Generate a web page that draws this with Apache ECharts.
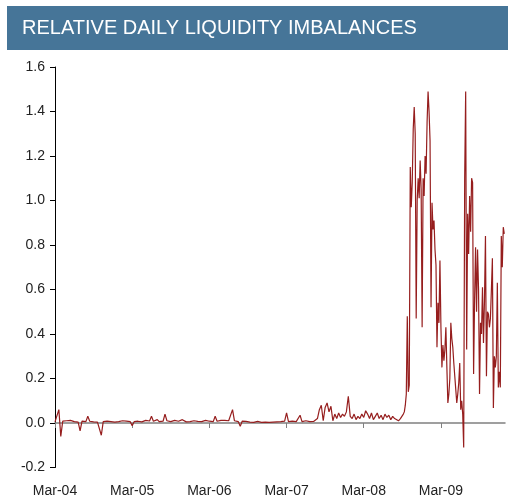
<!DOCTYPE html>
<html>
<head>
<meta charset="utf-8">
<script src="https://cdn.jsdelivr.net/npm/echarts@6/dist/echarts.min.js"></script>
<style>
html,body{margin:0;padding:0;background:#fff;}
#chart{width:508px;height:503px;}
</style>
</head>
<body>
<div id="chart"></div>
<script>
// Title
var chartTitle = 'RELATIVE DAILY LIQUIDITY IMBALANCES';
// X tick labels (years since Mar-04)
var xTickValues = [0, 1, 2, 3, 4, 5];
var xTickLabels = ['Mar-04', 'Mar-05', 'Mar-06', 'Mar-07', 'Mar-08', 'Mar-09'];
// Calm period: Mar-04 .. Sep-08, one value every 1/40 year
var calmStep = 1 / 40;
var calmValues = [
  0.005, 0.01, 0.06, -0.06, 0.008, 0.004, 0.01, 0.006, 0.012, 0.018,
  0.006, 0.01, 0.004, -0.035, 0.008, 0.012, 0.006, 0.03, 0.008, 0.012,
  0.005, 0.009, 0.004, 0.01, -0.055, 0.006, 0.012, 0.008, 0.015, 0.006,
  0.01, 0.004, 0.008, 0.006, 0.003, 0.01, 0.005, 0.008, 0.004, 0.006,
  -0.012, 0.006, 0.004, 0.008, 0.01, 0.005, 0.007, 0.012, 0.006, 0.009,
  0.03, 0.008, 0.01, 0.015, 0.006, 0.01, 0.008, 0.04, 0.01, 0.007,
  0.006, 0.009, 0.012, 0.005, 0.008, 0.006, 0.015, 0.008, 0.005, 0.01,
  0.006, 0.008, 0.01, 0.005, 0.007, 0.009, 0.006, 0.004, 0.012, 0.006,
  0.008, 0.01, 0.006, 0.03, 0.008, 0.01, 0.012, 0.007, 0.012, 0.008,
  0.01, 0.012, 0.06, 0.01, 0.015, 0.006, -0.015, 0.008, 0.005, 0.007,
  0.008, 0.004, 0.006, 0.003, 0.005, 0.007, 0.005, 0.003, 0.006, 0.004,
  0.005, 0.003, 0.006, 0.004, 0.007, 0.005, 0.003, 0.006, 0.004, 0.008,
  0.045, 0.006, 0.005, 0.008, 0.012, 0.006, 0.008, 0.035, 0.006, 0.005,
  0.01, 0.004, 0.006, 0.005, 0.007, 0.004, 0.02, 0.06, 0.08, 0.01,
  0.07, 0.09, 0.05, 0.075, 0.01, 0.04, 0.02, 0.045, 0.025, 0.04,
  0.03, 0.05, 0.12, 0.03, 0.02, 0.04, 0.015, 0.03, 0.02, 0.04,
  0.025, 0.055, 0.04, 0.02, 0.045, 0.015, 0.03, 0.045, 0.02, 0.035,
  0.015, 0.04, 0.025, 0.035, 0.015, 0.03, 0.02, 0.015, 0.01, 0.02
];
// Stress period: from Sep-08, one value every 1/78 year
var stressStart = 4.5;
var stressStep = 1 / 78;
var stressValues = [
  0.02, 0.04, 0.05, 0.08, 0.13, 0.48, 0.14, 0.17, 1.15, 0.97,
  1.08, 1.32, 1.42, 1.3, 0.47, 1.0, 1.1, 1.01, 1.18, 1.05,
  0.43, 1.1, 1.02, 1.2, 1.12, 1.35, 1.49, 1.4, 1.27, 0.52,
  0.99, 0.87, 0.91, 0.78, 0.71, 0.34, 0.54, 0.45, 0.73, 0.43,
  0.25, 0.35, 0.28, 0.33, 0.43, 0.25, 0.09, 0.13, 0.2, 0.45,
  0.38, 0.34, 0.27, 0.21, 0.15, 0.09, 0.13, 0.18, 0.27, 0.06,
  0.1, 0.04, -0.11, 1.1, 1.49, 0.33, 0.94, 0.76, 1.02, 0.86,
  1.1, 1.08, 0.22, 0.55, 0.79, 0.5, 0.78, 0.6, 0.13, 0.45,
  0.4, 0.61, 0.36, 0.55, 0.84, 0.21, 0.5, 0.49, 0.43, 0.47,
  0.6, 0.74, 0.067, 0.3, 0.25, 0.3, 0.63, 0.16, 0.23, 0.16,
  0.84, 0.7, 0.88, 0.85
];

var seriesData = [];
calmValues.forEach(function (v, i) { seriesData.push([i * calmStep, v]); });
stressValues.forEach(function (v, j) { seriesData.push([stressStart + j * stressStep, v]); });

var chart = echarts.init(document.getElementById('chart'), null, {renderer: 'canvas'});
chart.setOption({
  animation: false,
  backgroundColor: '#ffffff',
  graphic: [
    {type: 'rect', left: 7, top: 6, shape: {width: 501, height: 44}, style: {fill: '#467598'}, silent: true},
    {type: 'text', left: 22, top: 18, style: {text: chartTitle, fill: '#ffffff', font: '20px "Liberation Sans", Arial, sans-serif'}, silent: true}
  ],
  grid: {left: 55, right: 3, top: 67, bottom: 35.5, containLabel: false, outerBoundsMode: 'none'},
  xAxis: {
    type: 'value',
    min: 0,
    max: 5.83,
    interval: 1,
    splitLine: {show: false},
    axisLine: {onZero: true, lineStyle: {color: '#808080', width: 1.5}},
    axisTick: {show: true, length: 5, customValues: xTickValues, lineStyle: {color: '#808080', width: 1}},
    axisLabel: {
      customValues: xTickValues,
      margin: 17,
      color: '#222222',
      fontSize: 14,
      fontFamily: '"Liberation Sans", Arial, sans-serif',
      formatter: function (v) { var k = xTickValues.indexOf(Math.round(v)); return k >= 0 ? xTickLabels[k] : ''; }
    }
  },
  yAxis: {
    type: 'value',
    min: -0.2,
    max: 1.6,
    interval: 0.2,
    splitLine: {show: false},
    axisLine: {show: true, lineStyle: {color: '#000000', width: 1}},
    axisTick: {show: true, length: 5, lineStyle: {color: '#000000', width: 1}},
    axisLabel: {
      margin: 10,
      color: '#222222',
      fontSize: 14,
      fontFamily: '"Liberation Sans", Arial, sans-serif',
      formatter: function (v) { return v.toFixed(1); }
    }
  },
  series: [{
    type: 'line',
    data: seriesData,
    showSymbol: false,
    symbol: 'none',
    lineStyle: {color: '#961e1e', width: 1.2},
    z: 3
  }]
});
</script>
</body>
</html>
